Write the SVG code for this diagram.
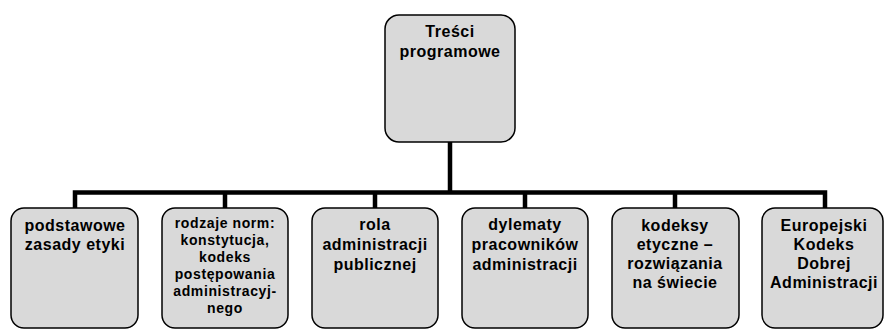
<svg xmlns="http://www.w3.org/2000/svg" width="884" height="329" viewBox="0 0 884 329">
<style>
.box{fill:#d9d9d9;stroke:#000;stroke-width:1.5}
.t{font-family:"Liberation Sans",Arial,sans-serif;font-weight:bold;font-size:16px;letter-spacing:0.5px;text-anchor:middle;fill:#000}
.s{font-size:14px;letter-spacing:0.6px}
.c{fill:none;stroke:#000;stroke-width:4.5;stroke-linejoin:miter}
</style>
<rect width="884" height="329" fill="#fff"/>
<g id="connectors">
<path class="c" d="M450,142 V192.5 M75,208 V192.5 H825 V208 M225,192.5 V208 M375,192.5 V208 M525,192.5 V208 M675,192.5 V208"/>
</g>
<g id="root">
<rect class="box" x="385" y="15" width="130" height="127" rx="14"/>
<text class="t" x="450" y="37">Treści</text>
<text class="t" x="450" y="57">programowe</text>
</g>
<g id="n1">
<rect class="box" x="11" y="208" width="127" height="120" rx="13"/>
<text class="t" x="75" y="231">podstawowe</text>
<text class="t" x="75" y="250">zasady etyki</text>
</g>
<g id="n2">
<rect class="box" x="162" y="208" width="126" height="120" rx="13"/>
<text class="t s" x="225" y="228">rodzaje norm:</text>
<text class="t s" x="225" y="245">konstytucja,</text>
<text class="t s" x="225" y="262">kodeks</text>
<text class="t s" x="225" y="279">postępowania</text>
<text class="t s" x="225" y="296">administracyj-</text>
<text class="t s" x="225" y="313">nego</text>
</g>
<g id="n3">
<rect class="box" x="312" y="208" width="126" height="120" rx="13"/>
<text class="t" x="375" y="230">rola</text>
<text class="t" x="375" y="250">administracji</text>
<text class="t" x="375" y="270">publicznej</text>
</g>
<g id="n4">
<rect class="box" x="462" y="208" width="126" height="120" rx="13"/>
<text class="t" x="525" y="230">dylematy</text>
<text class="t" x="525" y="250">pracowników</text>
<text class="t" x="525" y="270">administracji</text>
</g>
<g id="n5">
<rect class="box" x="612" y="208" width="127" height="120" rx="13"/>
<text class="t" x="675" y="231">kodeksy</text>
<text class="t" x="675" y="250">etyczne –</text>
<text class="t" x="675" y="269">rozwiązania</text>
<text class="t" x="675" y="288">na świecie</text>
</g>
<g id="n6">
<rect class="box" x="762" y="208" width="121" height="120" rx="13"/>
<text class="t" x="824" y="231">Europejski</text>
<text class="t" x="824" y="250">Kodeks</text>
<text class="t" x="824" y="269">Dobrej</text>
<text class="t" x="824" y="288">Administracji</text>
</g>
</svg>
